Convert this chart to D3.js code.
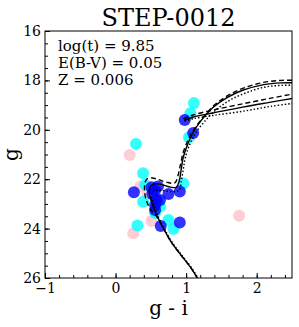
<!DOCTYPE html>
<html>
<head>
<meta charset="utf-8">
<script src="https://cdn.jsdelivr.net/npm/d3@7"></script>
<style>
  body { margin: 0; background: #fff; }
  text { font-family: "DejaVu Serif", serif; }
</style>
</head>
<body>
<svg width="299" height="327"></svg>
<script>
// cluster params
var title = "STEP-0012";
var notes = ["log(t) = 9.85", "E(B-V) = 0.05", "Z = 0.006"];

var xTicks = [-1, 0, 1, 2];
var yTicks = [16, 18, 20, 22, 24, 26];

// stars [g-i, g]
var pinkStars = [[0.20,21.02],[0.25,24.19],[1.75,23.48],[0.51,23.69],[0.35,22.3],[0.45,22.6]];
var cyanStars = [[1.11,18.92],[1.06,19.33],[1.04,20.3],[0.29,20.57],[0.39,21.76],[0.96,22.17],
                 [0.42,22.23],[0.39,22.91],[0.63,23.11],[0.75,23.65],[0.82,24.02],[0.31,23.87],
                 [0.58,23.0],[0.56,23.37]];
var blueStars = [[0.98,19.6],[1.10,20.13],[0.26,22.53],[0.75,22.6],[0.91,22.5],[0.91,23.75],
                 [0.64,23.89],[0.51,22.33],[0.56,22.45],[0.60,22.3],[0.58,22.84],[0.63,22.84],
                 [0.56,23.04],[0.56,23.25],[0.52,22.6]];

// isochrones: ms+rgb and agb branch for each
var rgbSolid = [[1.22,26.3],[1.07,25.6],[0.92,25.05],[0.79,24.55],[0.68,24.0],[0.59,23.5],[0.52,23.0],
                [0.48,22.6],[0.48,22.38],[0.51,22.24],[0.57,22.18],[0.66,22.22],[0.78,22.32],[0.86,22.33],
                [0.90,22.1],[0.93,21.6],[0.96,21.1],[1.02,20.6],[1.10,20.1],[1.22,19.6],[1.38,19.1],
                [1.58,18.7],[1.8,18.4],[2.1,18.17],[2.35,18.1],[2.6,18.1]];
var agbSolid = [[0.97,19.62],[1.1,19.48],[1.38,19.32],[1.8,19.08],[2.2,18.88],[2.6,18.68]];

var rgbDashed = [[1.22,26.3],[1.07,25.6],[0.92,25.05],[0.79,24.55],[0.68,24.0],[0.58,23.5],[0.49,23.2],
                 [0.43,22.8],[0.41,22.45],[0.42,22.12],[0.45,21.98],[0.52,21.95],[0.62,22.03],[0.72,22.12],
                 [0.84,22.15],[0.88,21.9],[0.92,21.4],[0.96,20.9],[1.03,20.4],[1.12,19.95],[1.24,19.5],
                 [1.40,19.0],[1.6,18.6],[1.82,18.3],[2.1,18.08],[2.35,18.0],[2.6,18.0]];
var agbDashed = [[0.96,19.55],[1.1,19.4],[1.38,19.2],[1.8,18.95],[2.2,18.72],[2.6,18.5]];

var rgbDotted = [[1.23,26.3],[1.08,25.6],[0.93,25.05],[0.80,24.55],[0.69,24.0],[0.60,23.5],[0.54,23.0],
                 [0.51,22.7],[0.52,22.52],[0.57,22.44],[0.66,22.46],[0.80,22.5],[0.90,22.45],[0.93,22.1],
                 [0.96,21.6],[0.99,21.1],[1.05,20.6],[1.13,20.15],[1.25,19.7],[1.42,19.2],[1.62,18.8],
                 [1.85,18.5],[2.1,18.28],[2.35,18.2],[2.6,18.2]];
var agbDotted = [[0.98,19.66],[1.1,19.55],[1.38,19.42],[1.8,19.25],[2.2,19.05],[2.6,18.9]];

var svg = d3.select("svg");
var L = 45, R = 292, T = 31, B = 278;

var x = d3.scaleLinear().domain([-1, 2.5]).range([L, R]);
var y = d3.scaleLinear().domain([16, 26]).range([T, B]);

svg.append("clipPath").attr("id", "plotclip")
   .append("rect").attr("x", L).attr("y", T).attr("width", R - L).attr("height", B - T);

var plot = svg.append("g").attr("clip-path", "url(#plotclip)");

var draw_stars = function(data, color){
  plot.append("g").selectAll("circle").data(data).enter()
      .append("circle")
      .attr("cx", function(d){ return x(d[0]); })
      .attr("cy", function(d){ return y(d[1]); })
      .attr("r", 6)
      .attr("fill", color)
      .attr("fill-opacity", 0.8);
}
draw_stars(pinkStars, "pink");
draw_stars(cyanStars, "cyan");
draw_stars(blueStars, "blue");

var line = d3.line()
             .x(function(d){ return x(d[0]); })
             .y(function(d){ return y(d[1]); })
             .curve(d3.curveCatmullRom);

var draw_iso = function(data, dash){
  plot.append("path").datum(data)
      .attr("d", line)
      .attr("fill", "none")
      .attr("stroke", "black")
      .attr("stroke-width", 1.4)
      .attr("stroke-dasharray", dash);
}
draw_iso(rgbSolid, null);
draw_iso(agbSolid, null);
draw_iso(rgbDashed, "5,3");
draw_iso(agbDashed, "5,3");
draw_iso(rgbDotted, "1.5,2");
draw_iso(agbDotted, "1.5,2");

// axes, ticks pointing in
var xAxis = d3.axisBottom(x).tickValues(xTicks).tickSizeInner(-5).tickSizeOuter(0)
              .tickFormat(function(d){ return d < 0 ? "\u2212" + Math.abs(d) : d; });
var xMinor = d3.axisBottom(x).tickValues(d3.range(-1, 2.51, 0.2)).tickSizeInner(-3).tickSizeOuter(0).tickFormat("");
var yAxis = d3.axisLeft(y).tickValues(yTicks).tickSizeInner(-5).tickSizeOuter(0);
var yMinor = d3.axisLeft(y).tickValues(d3.range(16, 26.01, 0.5)).tickSizeInner(-3).tickSizeOuter(0).tickFormat("");

svg.append("g").attr("transform", "translate(0," + B + ")").call(xMinor);
var gx = svg.append("g").attr("transform", "translate(0," + B + ")").call(xAxis);
svg.append("g").attr("transform", "translate(" + L + ",0)").call(yMinor);
var gy = svg.append("g").attr("transform", "translate(" + L + ",0)").call(yAxis);

svg.selectAll(".domain").remove();
gx.selectAll("text").attr("y", 5).attr("dy", "0.71em").style("font-size", "14px").style("font-family", "DejaVu Serif").attr("fill", "black");
gy.selectAll("text").attr("x", -4).style("font-size", "14px").style("font-family", "DejaVu Serif").attr("fill", "black");

svg.append("rect").attr("x", L).attr("y", T).attr("width", R - L).attr("height", B - T)
   .attr("fill", "none").attr("stroke", "black").attr("stroke-width", 1);

svg.append("text").attr("x", (L + R) / 2).attr("y", 26).attr("text-anchor", "middle")
   .style("font-size", "24px").text(title);

svg.selectAll(".note").data(notes).enter().append("text")
   .attr("class", "note")
   .attr("x", 58)
   .attr("y", function(d, i){ return 51 + i * 17; })
   .style("font-size", "15px")
   .text(function(d){ return d; });

svg.append("text").attr("x", (L + R) / 2).attr("y", 315).attr("text-anchor", "middle")
   .style("font-size", "20px").text("g - i");

svg.append("text").attr("transform", "translate(18," + (T + B) / 2 + ") rotate(-90)")
   .attr("text-anchor", "middle").style("font-size", "20px").text("g");
</script>
</body>
</html>
